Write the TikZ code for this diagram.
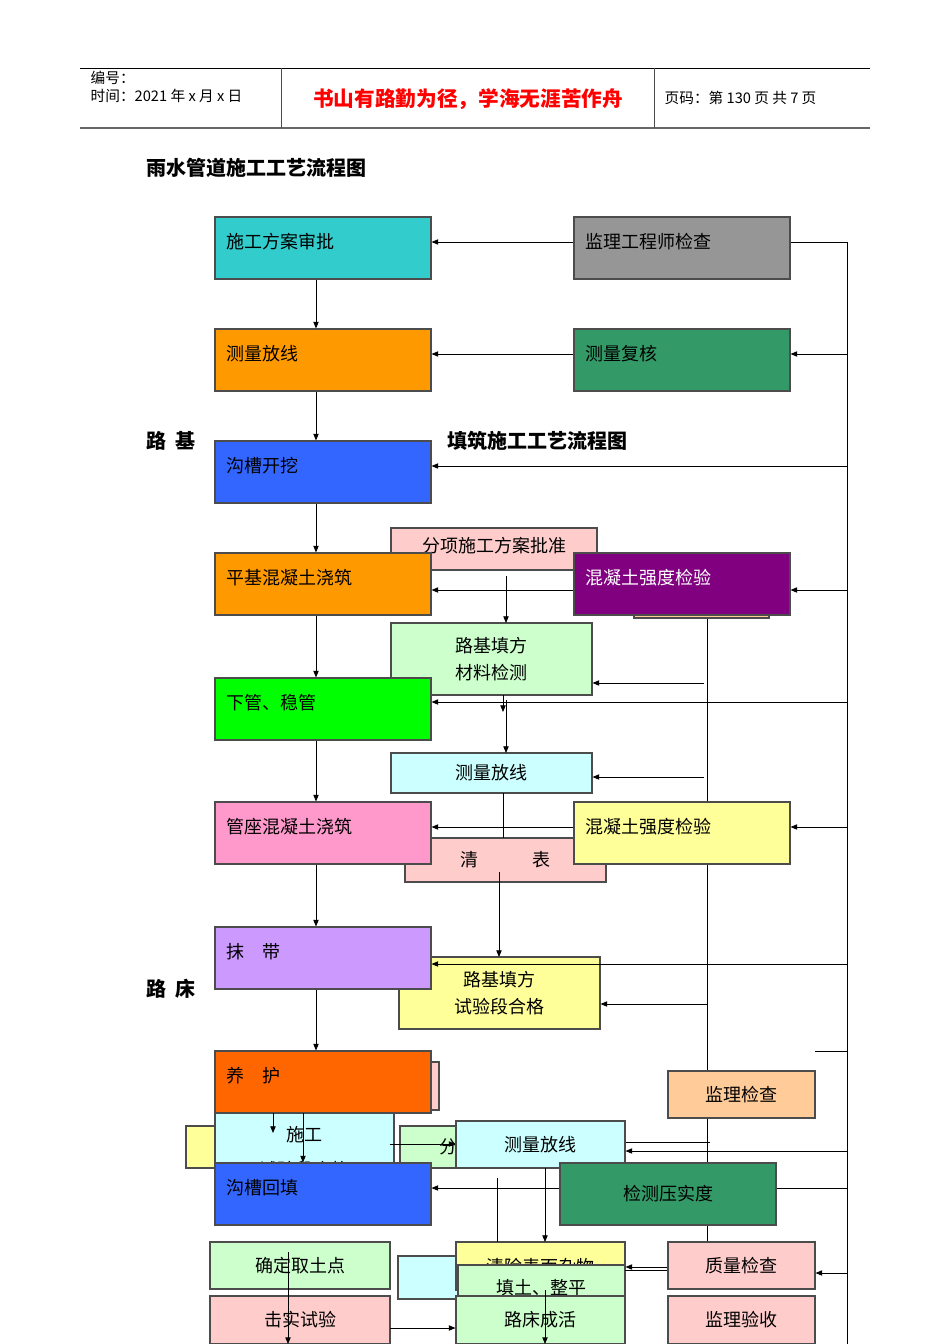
\documentclass[tikz,border=0pt]{standalone}
\usepackage{fontspec}
\setmainfont{Noto Sans CJK SC}
\usetikzlibrary{arrows.meta}
\definecolor{cTeal}{HTML}{33CCCC}\definecolor{cOrange}{HTML}{FF9900}
\definecolor{cBlue}{HTML}{3366FF}\definecolor{cGreen}{HTML}{00FF00}
\definecolor{cPink}{HTML}{FF99CC}\definecolor{cLav}{HTML}{CC99FF}
\definecolor{cRed}{HTML}{FF6600}\definecolor{cGray}{HTML}{969696}
\definecolor{cSea}{HTML}{339966}\definecolor{cPurp}{HTML}{800080}
\definecolor{cLY}{HTML}{FFFF99}\definecolor{cLP}{HTML}{FFCCCC}
\definecolor{cLG}{HTML}{CCFFCC}\definecolor{cLC}{HTML}{CCFFFF}
\definecolor{cTan}{HTML}{FFCC99}
\newcommand\bx[7]{\node[bxs,fill=#6,minimum width={(#4-#2)*0.75},minimum height={(#5-#3)*0.75}] (#1) at ({(#2+#4)/2},{(#3+#5)/2}) {#7};}
\tikzset{bxs/.style={draw=black!70,line width=0.8pt,inner sep=0pt,font=\fontsize{13.5}{20}\selectfont,align=center},
ar/.style={-{Triangle[length=5pt,width=4pt]},line width=0.6pt},
ln/.style={line width=0.6pt},
tl/.style={anchor=west,font=\fontsize{13.5}{15}\selectfont}}
\begin{document}
\begin{tikzpicture}[x=0.75pt,y=-0.75pt]
\useasboundingbox (0,0) rectangle (950,1344);
% header
\draw[line width=0.6pt] (80,68) -- (870,68);
\draw[line width=1.2pt,black!60] (80,128) -- (870,128);
\draw[ln,black!70] (281,68) -- (281,128) (654,68) -- (654,128);
\node[anchor=west,font=\fontsize{11}{12}\selectfont] (h1) at (86,78) {编号：};
\node[anchor=west,font=\fontsize{11}{12}\selectfont] (h2) at (86,96) {时间：2021 年 x 月 x 日};
\node[font=\bfseries\fontsize{15.5}{16}\selectfont,text=red] (h3) at (468,99) {书山有路勤为径，学海无涯苦作舟};
\node[anchor=west,font=\fontsize{11}{12}\selectfont] (h4) at (660,98) {页码：第 130 页 共 7 页};
\node[anchor=west,font=\bfseries\fontsize{15}{16}\selectfont] (t1) at (142,168) {雨水管道施工工艺流程图};
\node[anchor=west,font=\bfseries\fontsize{15}{16}\selectfont] (t2) at (142,441) {路\ \ 基};
\node[anchor=west,font=\bfseries\fontsize{15}{16}\selectfont] (t3) at (443,441) {填筑施工工艺流程图};
\node[anchor=west,font=\bfseries\fontsize{15}{16}\selectfont] (t4) at (142,989) {路\ \ 床};
% background lines
\draw[ln] (707,618) -- (707,1242);
\draw[ln] (847,242) -- (847,1344);
\draw[ln] (790,242) -- (847,242);
\draw[ln] (815,1051) -- (847,1051);
% middle subroad flow (behind)
\bx{m1}{391}{528}{597}{570}{cLP}{\raisebox{6pt}{分项施工方案批准}}
\bx{m0}{634}{580}{769}{618}{cTan}{}
\bx{m2}{391}{623}{592}{695}{cLG}{路基填方\\材料检测}
\bx{m3}{391}{753}{592}{793}{cLC}{\raisebox{-3pt}{测量放线}}
\bx{m4}{405}{838}{606}{882}{cLP}{\raisebox{-3pt}{清\hspace{3em}表}}
\bx{m5}{399}{957}{600}{1029}{cLY}{路基填方\\试验段合格}
\draw[ar] (506,576) -- (506,623);
\draw[ar] (503,695) -- (503,712);
\draw[ar] (506,700) -- (506,753);
\draw[ln] (503,793) -- (503,838);
\draw[ar] (499,872) -- (499,957);
\draw[ar] (704,683) -- (m2.east|-0,683);
\draw[ar] (704,777) -- (m3.east|-0,777);
\draw[ar] (707,1004) -- (m5.east|-0,1004);
% bottom background boxes
\bx{b0}{215}{1062}{439}{1110}{cLP}{}
\bx{b1}{186}{1126}{240}{1168}{cLY}{}
\bx{b2}{215}{1113}{394}{1192}{cLC}{\raisebox{6pt}{施工}\\试验段合格}
\bx{b3}{400}{1126}{470}{1168}{cLG}{\hspace{20pt}分}
\bx{b4}{456}{1121}{625}{1168}{cLC}{测量放线}
\bx{k1}{668}{1071}{815}{1118}{cTan}{监理检查}
\bx{k2}{668}{1242}{815}{1289}{cLP}{质量检查}
\bx{k3}{668}{1296}{815}{1344}{cLP}{监理验收}
\bx{d1}{210}{1242}{390}{1289}{cLG}{确定取土点}
\bx{d2}{210}{1296}{390}{1344}{cLP}{击实试验}
\bx{e0}{398}{1256}{470}{1299}{cLC}{}
\bx{e1}{456}{1242}{625}{1290}{cLY}{\raisebox{-12pt}{清除表面杂物}}
\bx{e2}{458}{1265}{625}{1310}{cLG}{\raisebox{-10pt}{填土、整平}}
\bx{e3}{456}{1296}{625}{1344}{cLG}{路床成活}
% main column
\foreach \n/\y/\c in {a1/217/cTeal,a2/329/cOrange,a3/441/cBlue,a4/553/cOrange,a5/678/cGreen,a6/802/cPink,a7/927/cLav,a8/1051/cRed,a9/1163/cBlue}
  {\bx{\n}{215}{\y}{431}{\y+62}{\c}{}}
\node[tl] (la1) at (222,242) {施工方案审批};
\node[tl] (la2) at (222,354) {测量放线};
\node[tl] (la3) at (222,466) {沟槽开挖};
\node[tl] (la4) at (222,578) {平基混凝土浇筑};
\node[tl] (la5) at (222,703) {下管、稳管};
\node[tl] (la6) at (222,827) {管座混凝土浇筑};
\node[tl] (la7) at (222,952) {抹\quad 带};
\node[tl] (la8) at (222,1076) {养\quad 护};
\node[tl] (la9) at (222,1188) {沟槽回填};
\foreach \a/\b in {a1/a2,a2/a3,a3/a4,a4/a5,a5/a6,a6/a7,a7/a8} \draw[ar] (\a.south-|316,0) -- (\b.north-|316,0);
% right column
\bx{r1}{574}{217}{790}{279}{cGray}{}
\bx{r2}{574}{329}{790}{391}{cSea}{}
\bx{r3}{574}{553}{790}{615}{cPurp}{}
\bx{r4}{574}{802}{790}{864}{cLY}{}
\node[tl] (lr1) at (581,242) {监理工程师检查};
\node[tl] (lr2) at (581,354) {测量复核};
\node[tl,text=white] (lr3) at (581,578) {混凝土强度检验};
\node[tl] (lr4) at (581,827) {混凝土强度检验};
\bx{g1}{560}{1163}{776}{1225}{cSea}{检测压实度}
\draw[ar] (r1.west|-0,242) -- (a1.east|-0,242);
\draw[ar] (r2.west|-0,354) -- (a2.east|-0,354);
\draw[ar] (r3.west|-0,590) -- (a4.east|-0,590);
\draw[ar] (r4.west|-0,827) -- (a6.east|-0,827);
\draw[ar] (847,354) -- (r2.east|-0,354);
\draw[ar] (847,590) -- (r3.east|-0,590);
\draw[ar] (847,827) -- (r4.east|-0,827);
\draw[ar] (847,466) -- (a3.east|-0,466);
\draw[ar] (847,702) -- (a5.east|-0,702);
\draw[ar] (847,964) -- (a7.east|-0,964);
% bottom connectors
\draw[ar] (303,1113) -- (a9.north-|303,0);
\draw[ar] (273,1113) -- (273,1133);
\draw[ar] (390,1144) -- (b4.west|-0,1144);
\draw[ln] (b4.east|-0,1142) -- (710,1142);
\draw[ar] (847,1151) -- (b4.east|-0,1151);
\draw[ar] (g1.west|-0,1188) -- (a9.east|-0,1188);
\draw[ln] (g1.east|-0,1188) -- (847,1188);
\draw[ar] (545,1168) -- (545,1242);
\draw[ln] (497,1178) -- (497,1242);
\draw[ar] (k2.west|-0,1267) -- (e1.east|-0,1267);
\draw[ln] (k2.west|-0,1270) -- (625,1270);
\draw[ar] (847,1273) -- (k2.east|-0,1273);
\draw[ar] (390,1328) -- (e3.west|-0,1328);
\draw[ar] (288,1252) -- (288,1344);
\draw[ar] (545,1290) -- (545,1344);
\end{tikzpicture}
\end{document}
